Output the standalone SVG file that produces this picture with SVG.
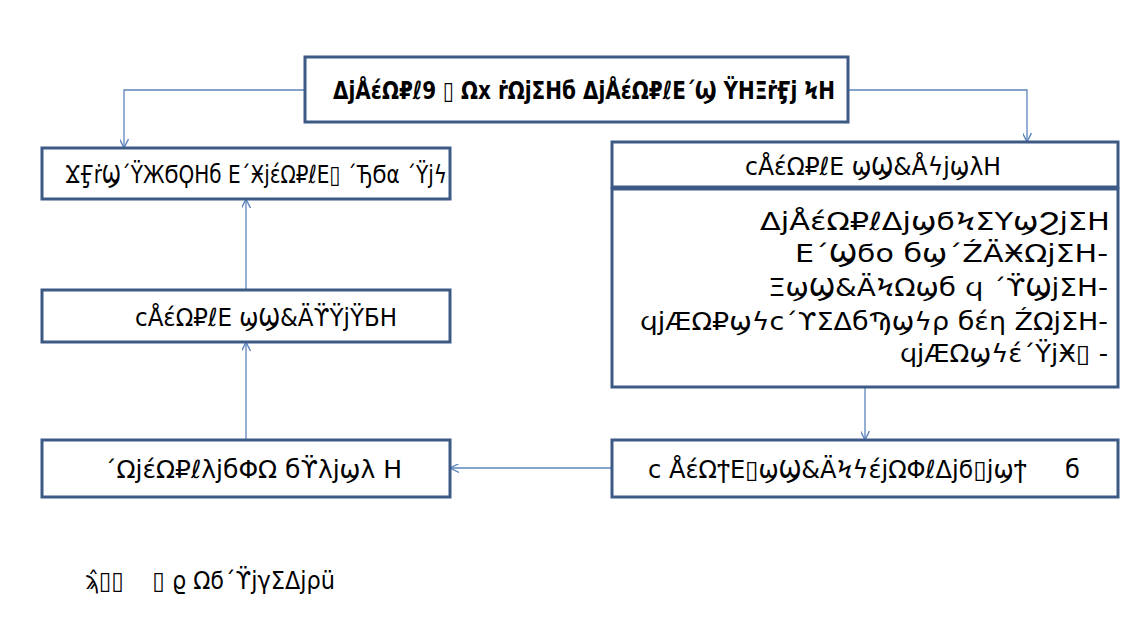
<svg xmlns="http://www.w3.org/2000/svg" width="1139" height="620" viewBox="0 0 1139 620">
<style>
.box{fill:#fff;stroke:#3d5a86;stroke-width:3}
.t{font-family:"DejaVu Sans","Noto Sans",sans-serif;font-size:25px;fill:#000}
.b{font-weight:bold}
.c{fill:none;stroke:#5b85bd;stroke-width:1.3}
</style>
<defs>
<marker id="a" viewBox="0 0 10 10" refX="9" refY="5" markerWidth="9" markerHeight="9" markerUnits="userSpaceOnUse" orient="auto">
<path d="M0,0 L10,5 L0,10" fill="none" stroke="#5b85bd" stroke-width="1.5"/>
</marker>
</defs>
<rect width="1139" height="620" fill="#fff"/>
<g id="connectors">
<path class="c" d="M305,90 H124 V147" marker-end="url(#a)"/>
<path class="c" d="M848,90 H1027 V141" marker-end="url(#a)"/>
<path class="c" d="M865,388 V439" marker-end="url(#a)"/>
<path class="c" d="M611,468 H451" marker-end="url(#a)"/>
<path class="c" d="M246,439 V343" marker-end="url(#a)"/>
<path class="c" d="M246,289 V200" marker-end="url(#a)"/>
</g>
<g id="n-top">
<rect class="box" x="305" y="57" width="543" height="65"/>
<text class="t b" x="333" y="99" textLength="502" lengthAdjust="spacingAndGlyphs">ΔjÅέΩ₽ℓ9 ▯ Ωx ṙΩjΣHб ΔjÅέΩ₽ℓΕ΄Ϣ ŸHΞṙӺj ϞH</text>
</g>
<g id="n-left1">
<rect class="box" x="42" y="148" width="408" height="51"/>
<text class="t" x="65" y="183" textLength="382" lengthAdjust="spacingAndGlyphs">ϪӺṙϢ΄ŸЖϬϘHб Ε΄ӾjέΩ₽ℓΕ▯ ΄ЂϬα ΄Ÿjϟ</text>
</g>
<g id="n-right-head">
<rect class="box" x="612" y="142" width="506" height="45"/>
<text class="t" x="745" y="175" textLength="256" lengthAdjust="spacingAndGlyphs">cÅέΩ₽ℓΕ ϣϢ&amp;ÅϟjϣλH</text>
</g>
<g id="n-right-body">
<rect class="box" x="612" y="189" width="506" height="198"/>
<text class="t" text-anchor="end" x="1110" y="230" textLength="350" lengthAdjust="spacingAndGlyphs">ΔjÅέΩ₽ℓΔjϣϭϞΣΥϣϨjΣH</text>
<text class="t" text-anchor="end" x="1108" y="262" textLength="313" lengthAdjust="spacingAndGlyphs">Ε΄Ϣϭo бϣ΄ŹÄӾΩjΣH-</text>
<text class="t" text-anchor="end" x="1108" y="296" textLength="340" lengthAdjust="spacingAndGlyphs">ΞϣϢ&amp;ÄϞΩϣб ϥ ΄ϔϢjΣH-</text>
<text class="t" text-anchor="end" x="1108" y="330" textLength="468" lengthAdjust="spacingAndGlyphs">ϥjÆΩ₽ϣϟc΄ϒΣΔбϠϣϟρ бέη ŹΩjΣH-</text>
<text class="t" text-anchor="end" x="1108" y="362" textLength="208" lengthAdjust="spacingAndGlyphs">ϥjÆΩϣϟέ΄ŸjӾ▯ -</text>
</g>
<g id="n-left2">
<rect class="box" x="42" y="290" width="408" height="52"/>
<text class="t" x="135" y="326" textLength="262" lengthAdjust="spacingAndGlyphs">cÅέΩ₽ℓΕ ϣϢ&amp;ÄϔŸjŸБH</text>
</g>
<g id="n-left3">
<rect class="box" x="42" y="440" width="408" height="57"/>
<text class="t" x="104" y="478" textLength="298" lengthAdjust="spacingAndGlyphs">΄ΩjέΩ₽ℓλjбΦΩ бϔλjϣλ H</text>
</g>
<g id="n-right-bottom">
<rect class="box" x="612" y="440" width="506" height="57"/>
<text class="t" x="648" y="478" textLength="432" lengthAdjust="spacingAndGlyphs">c ÅέΩϯΕ▯ϣϢ&amp;ÄϞϟέjΩΦℓΔjϭ▯jϣϯ&#160;&#160;&#160;&#160;&#160;б</text>
</g>
<text class="t" x="85" y="589" font-size="22" textLength="250" lengthAdjust="spacingAndGlyphs">ϡ̂▯▯&#160;&#160;&#160;&#160;▯ ϱ Ωϭ΄ϔjγΣΔjρü</text>
</svg>
